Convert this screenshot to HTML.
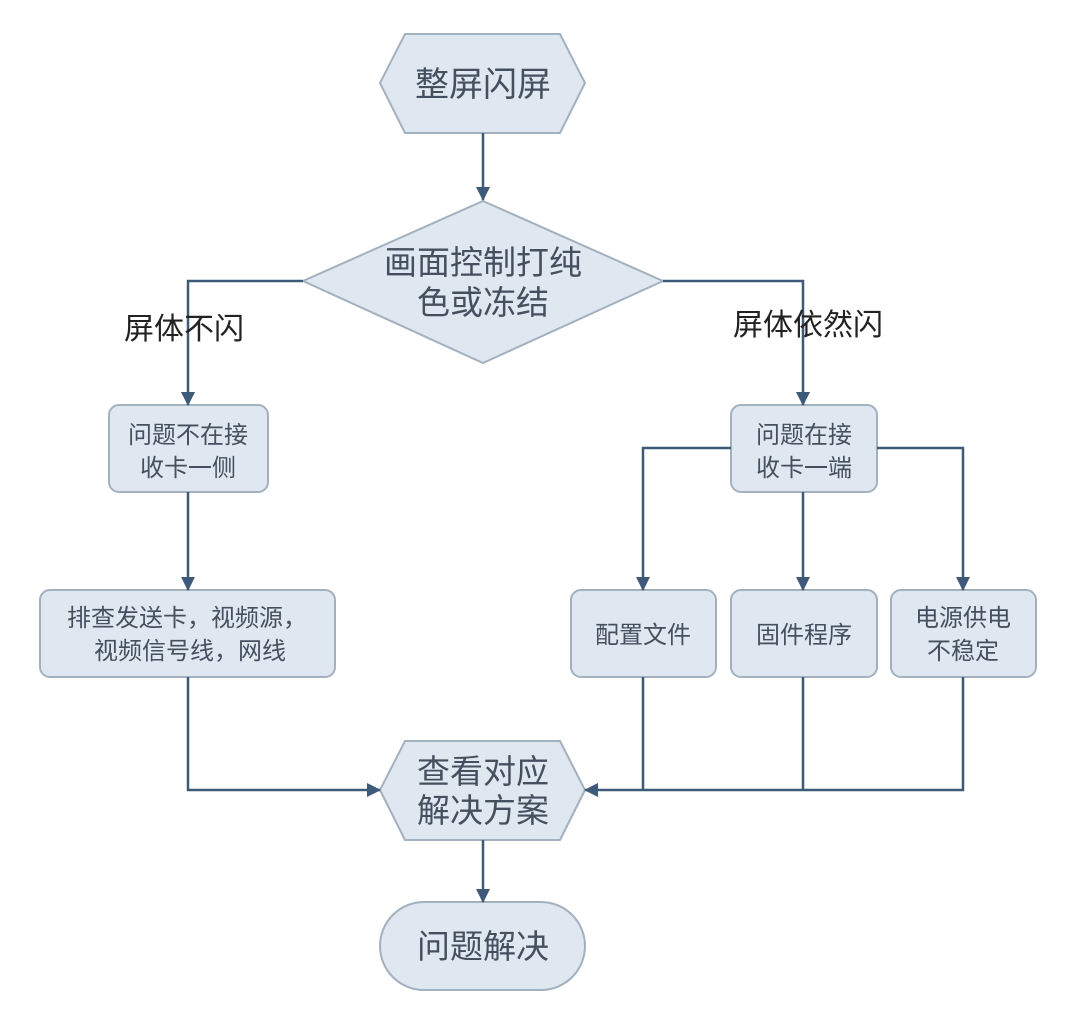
<!DOCTYPE html>
<html><head><meta charset="utf-8"><style>
html,body{margin:0;padding:0;background:#fff;}
svg{display:block;}
text{font-family:"Liberation Sans","Noto Sans CJK SC",sans-serif;fill:#45505e;text-anchor:middle;}
</style></head><body>
<svg width="1080" height="1035" viewBox="0 0 1080 1035" xmlns="http://www.w3.org/2000/svg">
<defs>
<marker id="a" markerWidth="14" markerHeight="14" refX="13" refY="7" orient="auto" markerUnits="userSpaceOnUse">
<path d="M0,0 L14,7 L0,14 z" fill="#3d5a78"/></marker>
</defs>
<g fill="#dfe7f0" stroke="#a3b1bf" stroke-width="2">
<polygon points="405,34 560,34 585,83 560,133 405,133 380,83"/>
<polygon points="483,201 663,281 483,363 303,281"/>
<rect x="109" y="405" width="159" height="87" rx="10"/>
<rect x="731" y="405" width="146" height="87" rx="10"/>
<rect x="40" y="590" width="295" height="87" rx="10"/>
<rect x="571" y="590" width="145" height="87" rx="10"/>
<rect x="731" y="590" width="146" height="87" rx="10"/>
<rect x="891" y="590" width="145" height="87" rx="10"/>
<polygon points="405,741 560,741 585,790 560,840 405,840 380,790"/>
<rect x="380" y="902" width="205" height="88" rx="44"/>
</g>
<g stroke="#3d5a78" stroke-width="2.5" fill="none">
<line x1="483" y1="133" x2="483" y2="200" marker-end="url(#a)"/>
<polyline points="303,281 188,281 188,405" marker-end="url(#a)"/>
<polyline points="663,281 803,281 803,405" marker-end="url(#a)"/>
<line x1="188" y1="492" x2="188" y2="590" marker-end="url(#a)"/>
<line x1="803" y1="492" x2="803" y2="590" marker-end="url(#a)"/>
<polyline points="731,448 643,448 643,590" marker-end="url(#a)"/>
<polyline points="877,448 963,448 963,590" marker-end="url(#a)"/>
<polyline points="188,677 188,790 380,790" marker-end="url(#a)"/>
<polyline points="963,677 963,790 585,790" marker-end="url(#a)"/>
<line x1="643" y1="677" x2="643" y2="790"/>
<line x1="803" y1="677" x2="803" y2="790"/>
<line x1="483" y1="840" x2="483" y2="902" marker-end="url(#a)"/>
</g>
<text x="483" y="96" font-size="34">整屏闪屏</text>
<text x="483" y="274" font-size="33">画面控制打纯</text>
<text x="483" y="314" font-size="33">色或冻结</text>
<text x="184" y="339" font-size="30" style="fill:#222">屏体不闪</text>
<text x="808" y="335" font-size="30" style="fill:#222">屏体依然闪</text>
<text x="188" y="443" font-size="24">问题不在接</text>
<text x="188" y="476" font-size="24">收卡一侧</text>
<text x="804" y="443" font-size="24">问题在接</text>
<text x="804" y="476" font-size="24">收卡一端</text>
<text x="187" y="626" font-size="24">排查发送卡，视频源，</text>
<text x="190" y="659" font-size="24">视频信号线，网线</text>
<text x="643" y="643" font-size="24">配置文件</text>
<text x="804" y="643" font-size="24">固件程序</text>
<text x="963" y="626" font-size="24">电源供电</text>
<text x="963" y="659" font-size="24">不稳定</text>
<text x="483" y="783" font-size="33">查看对应</text>
<text x="483" y="822" font-size="33">解决方案</text>
<text x="483" y="958" font-size="33">问题解决</text>
</svg>
</body></html>
